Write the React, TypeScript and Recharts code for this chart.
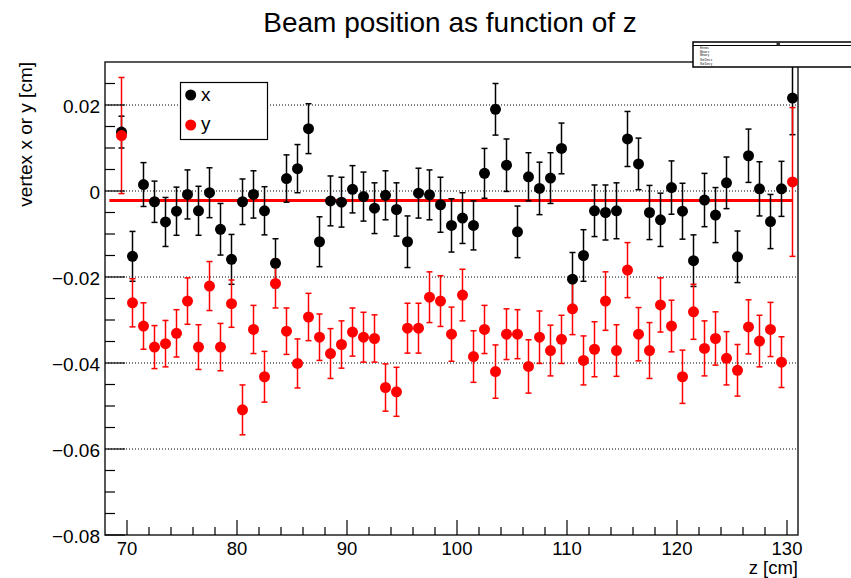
import React from "react";
import {
  ComposedChart,
  Scatter,
  Line,
  ErrorBar,
  XAxis,
  YAxis,
  CartesianGrid,
  ReferenceArea,
} from "recharts";

// z bin centres [cm]
const zValues = [
  69.5, 70.5, 71.5, 72.5, 73.5, 74.5, 75.5, 76.5, 77.5, 78.5, 79.5, 80.5, 81.5,
  82.5, 83.5, 84.5, 85.5, 86.5, 87.5, 88.5, 89.5, 90.5, 91.5, 92.5, 93.5, 94.5,
  95.5, 96.5, 97.5, 98.5, 99.5, 100.5, 101.5, 102.5, 103.5, 104.5, 105.5, 106.5,
  107.5, 108.5, 109.5, 110.5, 111.5, 112.5, 113.5, 114.5, 115.5, 116.5, 117.5,
  118.5, 119.5, 120.5, 121.5, 122.5, 123.5, 124.5, 125.5, 126.5, 127.5, 128.5,
  129.5, 130.5,
];

// vertex x [cm]
const xVertex = [
  0.0137, -0.0152, 0.0015, -0.0025, -0.0072, -0.0047, -0.0008, -0.0046, -0.0004,
  -0.0089, -0.0159, -0.0025, -0.0008, -0.0046, -0.0168, 0.0029, 0.0052, 0.0145,
  -0.0118, -0.0023, -0.0026, 0.0004, -0.0013, -0.004, -0.001, -0.0043, -0.0118,
  -0.0005, -0.0009, -0.0032, -0.008, -0.0063, -0.008, 0.0041, 0.019, 0.006,
  -0.0095, 0.0033, 0.0006, 0.003, 0.0099, -0.0205, -0.015, -0.0046, -0.005,
  -0.0046, 0.0121, 0.0063, -0.005, -0.0067, 0.0008, -0.0047, -0.0162, -0.0021,
  -0.0056, 0.0019, -0.0153, 0.0082, 0.0005, -0.0071, 0.0005, 0.0216,
];
const xError = [
  0.0037, 0.0058, 0.0051, 0.0048, 0.0057, 0.0056, 0.0057, 0.0057, 0.0058, 0.006,
  0.0058, 0.0053, 0.0055, 0.0056, 0.0057, 0.0055, 0.0056, 0.0058, 0.0058, 0.0058,
  0.0058, 0.0055, 0.0057, 0.0059, 0.0057, 0.0062, 0.006, 0.0058, 0.0058, 0.0064,
  0.0062, 0.0059, 0.0057, 0.0058, 0.006, 0.0061, 0.006, 0.0056, 0.0061, 0.0059,
  0.0059, 0.0062, 0.006, 0.006, 0.0064, 0.0065, 0.0064, 0.006, 0.0063, 0.0062,
  0.0062, 0.0065, 0.006, 0.0062, 0.0064, 0.006, 0.006, 0.0062, 0.0063, 0.0063,
  0.0064, 0.0085,
];

// vertex y [cm]
const yVertex = [
  0.0129, -0.026, -0.0314, -0.0363, -0.0355, -0.0331, -0.0256, -0.0363, -0.0221,
  -0.0363, -0.0262, -0.0509, -0.0322, -0.0432, -0.0215, -0.0326, -0.0401,
  -0.0293, -0.034, -0.0378, -0.0357, -0.0328, -0.034, -0.0343, -0.0457, -0.0467,
  -0.0319, -0.0319, -0.0247, -0.0256, -0.0333, -0.0242, -0.0385, -0.0322,
  -0.042, -0.0333, -0.0333, -0.0408, -0.034, -0.0371, -0.0345, -0.0274, -0.0394,
  -0.0368, -0.0256, -0.0371, -0.0184, -0.0333, -0.0371, -0.0265, -0.0314,
  -0.0432, -0.0281, -0.0366, -0.0343, -0.0389, -0.0417, -0.0316, -0.0349,
  -0.0322, -0.0398, 0.0021,
];
const yError = [
  0.0135, 0.0056, 0.0054, 0.005, 0.0054, 0.0055, 0.0054, 0.0052, 0.0057, 0.0055,
  0.0055, 0.0058, 0.0056, 0.0059, 0.0057, 0.0054, 0.0057, 0.0055, 0.0054, 0.0058,
  0.0055, 0.0056, 0.0058, 0.0055, 0.0055, 0.0057, 0.0058, 0.0058, 0.0059, 0.0059,
  0.0063, 0.006, 0.006, 0.0056, 0.0062, 0.0059, 0.0057, 0.0062, 0.0061, 0.0059,
  0.0056, 0.006, 0.0057, 0.0064, 0.0068, 0.006, 0.0064, 0.0062, 0.0065, 0.0063,
  0.006, 0.0062, 0.0064, 0.0064, 0.0062, 0.0062, 0.006, 0.0063, 0.006, 0.0063,
  0.0059, 0.0173,
];

// constant fit drawn in red
const fitRange = [68.4, 130.5];
const fitValue = -0.0022;

const xTicks = [
  70, 72, 74, 76, 78, 80, 82, 84, 86, 88, 90, 92, 94, 96, 98, 100, 102, 104,
  106, 108, 110, 112, 114, 116, 118, 120, 122, 124, 126, 128, 130,
];
const yTicks = [
  -0.08, -0.075, -0.07, -0.065, -0.06, -0.055, -0.05, -0.045, -0.04, -0.035,
  -0.03, -0.025, -0.02, -0.015, -0.01, -0.005, 0, 0.005, 0.01, 0.015, 0.02,
  0.025,
];
const yGrid = [-0.06, -0.04, -0.02, 0, 0.02];

const FONT = "'Liberation Sans', Arial, Helvetica, sans-serif";

const xData = zValues.map((z, i) => ({ z, v: xVertex[i], e: xError[i] }));
const yData = zValues.map((z, i) => ({ z, v: yVertex[i], e: yError[i] }));
const fitData = fitRange.map((z) => ({ z, v: fitValue }));

const isMajor = (v: number, step: number) =>
  Math.abs(v / step - Math.round(v / step)) < 1e-6;

const fmtY = (v: number) => {
  if (Math.abs(v) < 1e-9) return "0";
  const s = Math.abs(v).toFixed(2);
  return v < 0 ? `\u2212${s}` : s;
};

const YTick = (props: any) => {
  const { x, y, payload } = props;
  const major = isMajor(payload.value, 0.02);
  return (
    <g>
      <line x1={x} x2={x + (major ? 20 : 10)} y1={y} y2={y} stroke="#000" strokeWidth={1.2} />
      {major && (
        <text x={x - 5} y={y + 7.5} textAnchor="end" fontSize={19} fontFamily={FONT} fill="#000">
          {fmtY(payload.value)}
        </text>
      )}
    </g>
  );
};

const XTick = (props: any) => {
  const { x, y, payload } = props;
  const major = isMajor(payload.value, 10);
  return (
    <g>
      <line x1={x} x2={x} y1={y} y2={y - (major ? 15 : 8)} stroke="#000" strokeWidth={1.2} />
      {major && (
        <text x={x} y={y + 19.5} textAnchor="middle" fontSize={18.5} fontFamily={FONT} fill="#000">
          {payload.value}
        </text>
      )}
    </g>
  );
};

const dot = (color: string) => (p: any) =>
  <circle cx={p.cx} cy={p.cy} r={5.5} fill={color} />;

const statsRows = ["Entries", "Mean x", "Mean y", "Std Dev x", "Std Dev y"];

export default function App() {
  return (
    <div style={{ position: "absolute", left: 0, top: 0, width: 851, height: 578, background: "#fff" }}>
      <ComposedChart
        width={851}
        height={578}
        margin={{ top: 62, right: 53, bottom: 13, left: 45 }}
      >
        <CartesianGrid
          vertical={false}
          horizontalValues={yGrid}
          stroke="#000"
          strokeDasharray="1 2"
        />
        <XAxis
          type="number"
          dataKey="z"
          domain={[68, 131]}
          ticks={xTicks}
          interval={0}
          height={30}
          tickSize={0}
          tickMargin={0}
          tickLine={false}
          axisLine={false}
          tick={XTick}
          allowDataOverflow
        />
        <YAxis
          type="number"
          dataKey="v"
          domain={[-0.08, 0.03]}
          ticks={yTicks}
          interval={0}
          width={60}
          tickSize={0}
          tickMargin={0}
          tickLine={false}
          axisLine={false}
          tick={YTick}
          allowDataOverflow
        />
        <ReferenceArea x1={68} x2={131} y1={-0.08} y2={0.03} fill="none" stroke="#222" strokeWidth={1.5} />
        <Line
          data={fitData}
          dataKey="v"
          stroke="#ff0000"
          strokeWidth={3}
          dot={false}
          isAnimationActive={false}
        />
        <Scatter data={xData} dataKey="v" shape={dot("#000")} isAnimationActive={false}>
          <ErrorBar dataKey="e" direction="y" width={3} stroke="#000" strokeWidth={1.5} />
        </Scatter>
        <Scatter data={yData} dataKey="v" shape={dot("#ff0000")} isAnimationActive={false}>
          <ErrorBar dataKey="e" direction="y" width={3} stroke="#ff0000" strokeWidth={1.5} />
        </Scatter>
      </ComposedChart>

      <svg
        width={851}
        height={578}
        style={{ position: "absolute", left: 0, top: 0, pointerEvents: "none" }}
        fontFamily={FONT}
      >
        <text x={450} y={32} textAnchor="middle" fontSize={28} fill="#000">
          Beam position as function of z
        </text>
        <text transform="translate(32,62) rotate(-90)" textAnchor="end" fontSize={19} fill="#000">
          vertex x or y [cm]
        </text>
        <text x={798} y={574} textAnchor="end" fontSize={18.5} fill="#000">
          z [cm]
        </text>

        {/* legend */}
        <rect x={180.5} y={82.5} width={87} height={57} fill="#fff" stroke="#000" strokeWidth={1.2} />
        <circle cx={190.7} cy={95} r={5.5} fill="#000" />
        <text x={201} y={101} fontSize={19} fill="#000">x</text>
        <circle cx={190.7} cy={125} r={5.5} fill="#ff0000" />
        <text x={201} y={130} fontSize={19} fill="#000">y</text>

        {/* stats box */}
        <rect x={693} y={42} width={170} height={25} fill="#fff" stroke="#000" strokeWidth={1.5} />
        <line x1={693} x2={851} y1={45.5} y2={45.5} stroke="#000" strokeWidth={1} />
        <rect x={776.5} y={42} width={3.5} height={3.5} fill="#333" />
        {statsRows.map((t, i) => (
          <text key={t} x={700} y={49 + i * 3.6 + (i > 2 ? 1.5 : 0)} fontSize={2.8} fill="#000">
            {t}
          </text>
        ))}
      </svg>
    </div>
  );
}
